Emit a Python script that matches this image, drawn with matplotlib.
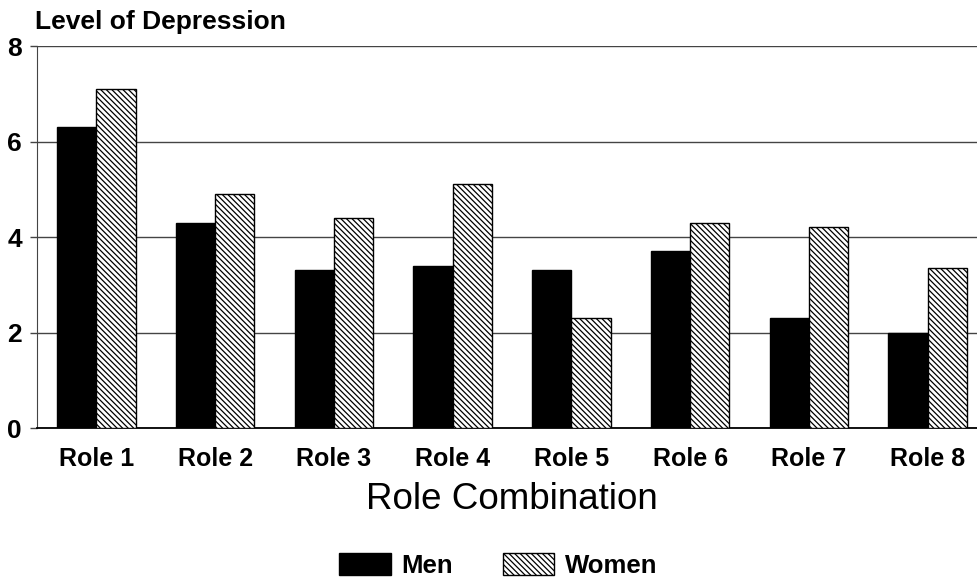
import numpy as np
import matplotlib
matplotlib.use("Agg")
import matplotlib.pyplot as plt
from matplotlib.patches import Patch

roles = ["Role 1", "Role 2", "Role 3", "Role 4", "Role 5", "Role 6", "Role 7", "Role 8"]
men = [6.3, 4.3, 3.3, 3.4, 3.3, 3.7, 2.3, 2.0]
women = [7.1, 4.9, 4.4, 5.1, 2.3, 4.3, 4.2, 3.35]
y_ticks = [0, 2, 4, 6, 8]

plt.rcParams['font.family'] = ['Liberation Sans', 'DejaVu Sans']
plt.rcParams['hatch.linewidth'] = 0.9

HATCH = "\\" * 6

fig = plt.figure(figsize=(9.77, 5.81), dpi=100)
ax = fig.add_axes([0.0379, 0.2633, 0.9723, 0.6575])

x = np.arange(len(roles))
w = 0.33
ax.bar(x - w / 2, men, width=w, color="black", edgecolor="black", linewidth=1, zorder=3)
ax.bar(x + w / 2, women, width=w, color="white", edgecolor="black", linewidth=1,
       hatch=HATCH, zorder=3)

ax.set_xlim(-0.5, 7.5)
ax.set_ylim(0, 8)
ax.set_yticks(y_ticks)
ax.set_yticklabels([str(t) for t in y_ticks], fontsize=19, fontweight="bold")
ax.set_xticks(x)
ax.set_xticklabels(roles, fontsize=18, fontweight="bold")
ax.tick_params(axis="x", length=0, pad=13.5)
ax.tick_params(axis="y", length=5, width=1, color="#444444", pad=6)

ax.grid(axis="y", color="#444444", linewidth=1, zorder=0)
for s in ["top", "right"]:
    ax.spines[s].set_visible(False)
ax.spines["left"].set_color("#444444")
ax.spines["bottom"].set_color("black")
ax.spines["bottom"].set_linewidth(1.3)

ax.set_xlabel("Role Combination", fontsize=26.5, labelpad=8)
fig.text(0.036, 0.962, "Level of Depression", fontsize=19, fontweight="bold",
         ha="left", va="center")

handles = [Patch(facecolor="black", edgecolor="black", label="Men"),
           Patch(facecolor="white", edgecolor="black", hatch=HATCH, label="Women")]
fig.legend(handles=handles, loc="center", bbox_to_anchor=(0.51, 0.027), ncol=2,
           frameon=False, handlelength=2.0, handleheight=0.95, handletextpad=0.4,
           columnspacing=1.95, prop={"size": 18.5, "weight": "bold"})

fig.savefig("out.png", dpi=100)
